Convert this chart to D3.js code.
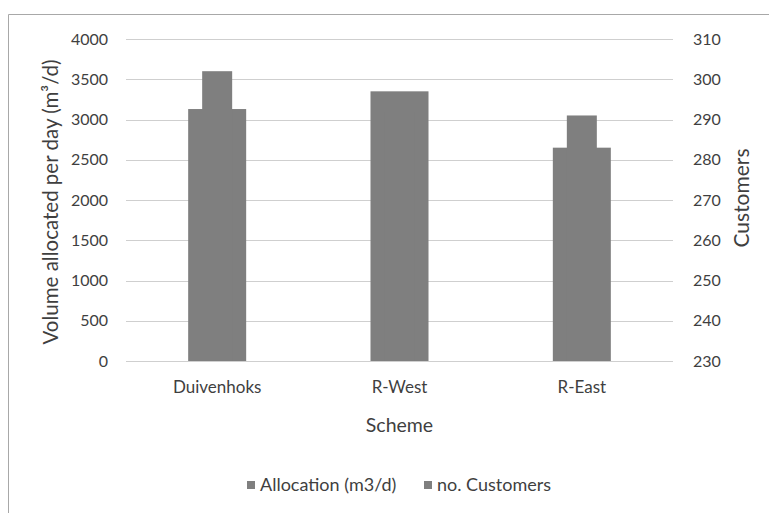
<!DOCTYPE html>
<html>
<head>
<meta charset="utf-8">
<script src="https://cdn.jsdelivr.net/npm/d3@7"></script>
<style>
  html, body { margin: 0; padding: 0; background: #fff; }
  svg text { font-family: Lato, "Open Sans", sans-serif; fill: #3f3f3f; }
</style>
</head>
<body>
<svg id="chart" width="769" height="513"></svg>
<script>
// Schemes and their values
const schemes = ["Duivenhoks", "R-West", "R-East"];
const allocation = [3130, 3350, 2650];      // m3/d, left axis
const customers = [302, 292, 291];          // count, right axis
const leftTicks = [0, 500, 1000, 1500, 2000, 2500, 3000, 3500, 4000];
const rightTicks = [230, 240, 250, 260, 270, 280, 290, 300, 310];
const seriesNames = ["Allocation (m3/d)", "no. Customers"];

const svg = d3.select("#chart");
const barColor = "#7f7f7f";
const plot = { left: 126, right: 673, top: 39, bottom: 361 };

// chart frame
svg.append("path")
  .attr("d", `M8.5,513 V14.5 H769`)
  .attr("fill", "none").attr("stroke", "#a8a8a8").attr("stroke-width", 1);

const x = d3.scaleBand().domain(schemes).range([plot.left, plot.right]);
const yL = d3.scaleLinear().domain([0, 4000]).range([plot.bottom, plot.top]);
const yR = d3.scaleLinear().domain([230, 310]).range([plot.bottom, plot.top]);

// gridlines
svg.append("g").selectAll("line").data(leftTicks).join("line")
  .attr("x1", plot.left).attr("x2", plot.right)
  .attr("y1", d => Math.round(yL(d)) + 0.5).attr("y2", d => Math.round(yL(d)) + 0.5)
  .attr("stroke", "#cfcfcf").attr("stroke-width", 1);

// left axis
const axL = svg.append("g").attr("transform", `translate(${plot.left},0)`)
  .call(d3.axisLeft(yL).tickValues(leftTicks).tickFormat(d3.format("d")).tickSize(0).tickPadding(18));
axL.select(".domain").remove();
axL.selectAll("text").style("font-size", "16px").attr("fill", "#3f3f3f");

// right axis
const axR = svg.append("g").attr("transform", `translate(${plot.right},0)`)
  .call(d3.axisRight(yR).tickValues(rightTicks).tickFormat(d3.format("d")).tickSize(0).tickPadding(20));
axR.select(".domain").remove();
axR.selectAll("text").style("font-size", "16px").attr("fill", "#3f3f3f");

// category axis labels
const axB = svg.append("g").attr("transform", `translate(0,${plot.bottom})`)
  .call(d3.axisBottom(x).tickSize(0).tickPadding(20));
axB.select(".domain").remove();
axB.selectAll("text").style("font-size", "17px").attr("fill", "#3f3f3f");

// allocation bars (wide, left axis)
const wide = 58;
svg.append("g").selectAll("rect").data(schemes).join("rect")
  .attr("x", d => x(d) + x.bandwidth() / 2 - wide / 2)
  .attr("width", wide)
  .attr("y", (d, i) => yL(allocation[i]))
  .attr("height", (d, i) => plot.bottom - yL(allocation[i]))
  .attr("fill", barColor);

// customer bars (narrow, right axis)
const narrow = 30;
svg.append("g").selectAll("rect").data(schemes).join("rect")
  .attr("x", d => x(d) + x.bandwidth() / 2 - narrow / 2)
  .attr("width", narrow)
  .attr("y", (d, i) => yR(customers[i]))
  .attr("height", (d, i) => plot.bottom - yR(customers[i]))
  .attr("fill", barColor);

// axis titles
svg.append("text")
  .attr("transform", `translate(58,202) rotate(-90)`)
  .attr("text-anchor", "middle").style("font-size", "20.5px")
  .text("Volume allocated per day (m³/d)");

svg.append("text")
  .attr("transform", `translate(749,198) rotate(-90)`)
  .attr("text-anchor", "middle").style("font-size", "21px")
  .text("Customers");

svg.append("text")
  .attr("x", (plot.left + plot.right) / 2).attr("y", 432)
  .attr("text-anchor", "middle").style("font-size", "19.5px")
  .text("Scheme");

// legend
const legendX = [247, 424];
const lg = svg.append("g").selectAll("g").data(seriesNames).join("g")
  .attr("transform", (d, i) => `translate(${legendX[i]},481)`);
lg.append("rect").attr("width", 8).attr("height", 8).attr("fill", barColor);
lg.append("text").attr("x", 13).attr("y", 10).style("font-size", "18px").text(d => d);
</script>
</body>
</html>
